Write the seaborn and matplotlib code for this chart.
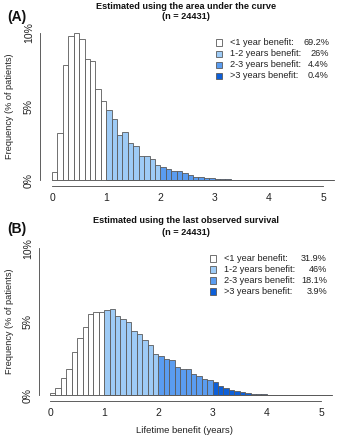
import numpy as np
import pandas as pd
import matplotlib
matplotlib.use('Agg')
import matplotlib.pyplot as plt
import seaborn as sns

# bins of 0.1 year from 0 to 5.2
edges = np.round(np.arange(0, 5.21, 0.1), 2)
centers = edges[:-1] + 0.05

# frequency (% of patients) per bin
freq_auc = [0.52, 3.2, 7.8, 9.8, 10.0, 9.6, 8.2, 8.1, 6.2, 5.4,
            4.75, 4.15, 3.05, 3.3, 2.55, 2.35, 1.65, 1.65, 1.4, 1.0,
            0.88, 0.78, 0.62, 0.6, 0.45, 0.35, 0.24, 0.2, 0.14, 0.11,
            0.08, 0.06, 0.05, 0.04, 0.03, 0.025, 0.02, 0.015, 0.012, 0.01,
            0.008, 0.007, 0.006, 0.005, 0.004, 0.004, 0.003, 0.003, 0.002, 0.002,
            0.002, 0.001]
freq_last = [0.16, 0.5, 1.14, 1.8, 2.95, 3.86, 4.65, 5.5, 5.63, 5.63,
             5.83, 5.85, 5.42, 5.15, 5.0, 4.35, 4.13, 3.72, 3.38, 2.77,
             2.65, 2.45, 2.36, 1.93, 1.77, 1.77, 1.47, 1.29, 1.09, 1.0,
             0.9, 0.62, 0.5, 0.34, 0.3, 0.18, 0.15, 0.08, 0.06, 0.05,
             0.04, 0.03, 0.02, 0.015, 0.01, 0.008, 0.006, 0.005, 0.004, 0.003,
             0.002, 0.002]

groups = ['<1 year benefit:', '1-2 years benefit:', '2-3 years benefit:', '>3 years benefit:']
colors = ['#FFFFFF', '#9ECBF6', '#5A9CF0', '#0D5FD8']
share_auc = ['69.2%', '26%', '4.4%', '0.4%']
share_last = ['31.9%', '46%', '18.1%', '3.9%']

titles = ['Estimated using the area under the curve', 'Estimated using the last observed survival']
n_total = 24431

sns.set_style('white')
plt.rcParams['font.family'] = ['Liberation Sans', 'DejaVu Sans']

fig = plt.figure(figsize=(3.38, 4.40), dpi=100)
W, H = 338, 440


def px_axes(l, t, r, b):
    return fig.add_axes([l / W, 1 - b / H, (r - l) / W, (b - t) / H])


def group_of(x):
    return groups[min(int(np.floor(x)), 3)]


panels = [
    dict(freq=freq_auc, share=share_auc, box=(40, 27, 338, 186), zero=52, label='(A)',
         title=titles[0], ty=(6.5, 16.5), ly=(7, 17), leg=(219, 230, 329, 42.7, 11.1)),
    dict(freq=freq_last, share=share_last, box=(39, 242.4, 338, 401), zero=50, label='(B)',
         title=titles[1], ty=(220, 232.5), ly=(7, 229), leg=(212.7, 224, 327, 258.3, 11.1)),
]

for i, p in enumerate(panels):
    l, t, r, b = p['box']
    ax = px_axes(l, t, r, b)
    df = pd.DataFrame({'benefit': centers, 'pct': p['freq'],
                       'group': [group_of(c) for c in centers]})
    sns.histplot(data=df, x='benefit', weights='pct', binwidth=0.1, binrange=(0, 5.2),
                 hue='group', hue_order=groups, palette=colors, multiple='layer',
                 alpha=1, edgecolor='#5a5a5a', linewidth=0.6, legend=False, ax=ax)
    ax.set_ylim(-0.4, 10.4)
    ppu = 54.2
    x0 = -(p['zero'] - l) / ppu
    ax.set_xlim(x0, x0 + (r - l) / ppu)
    ax.set_xticks([0, 1, 2, 3, 4, 5])
    ax.set_yticks([0, 5, 10])
    ax.set_yticklabels(['0%', '5%', '10%'], rotation=90, va='center')
    ax.tick_params(axis='both', labelsize=7.5, length=3, width=0.6,
                   color='#444444', labelcolor='#222222', pad=1.5)
    ax.tick_params(axis='x', pad=2)
    for s in ['top', 'right']:
        ax.spines[s].set_visible(False)
    ax.spines['left'].set_bounds(0, 10)
    ax.spines['bottom'].set_bounds(0, 5)
    for s in ['left', 'bottom']:
        ax.spines[s].set_color('#444444')
        ax.spines[s].set_linewidth(0.6)
    ax.set_ylabel('')
    ax.set_xlabel('')

    # y label
    fig.text(10 / W, 1 - (t + b) / 2 / H, 'Frequency (% of patients)', rotation=90,
             ha='center', va='center', fontsize=6.6, color='#222222')
    # titles and panel letters
    fig.text(186 / W, 1 - p['ty'][0] / H, p['title'], ha='center', va='center',
             fontsize=6.6, fontweight='bold', color='#111111')
    fig.text(186 / W, 1 - p['ty'][1] / H, f'(n = {n_total})', ha='center', va='center',
             fontsize=6.6, fontweight='bold', color='#111111')
    fig.text(p['ly'][0] / W, 1 - p['ly'][1] / H, p['label'], ha='left', va='center',
             fontsize=10, fontweight='bold', color='#111111')

    # legend with right-aligned shares
    sq, tx, vx, y0, dy = p['leg']
    for k, g in enumerate(groups):
        yy = 1 - (y0 + k * dy) / H
        fig.patches.append(plt.Rectangle(((sq - 3.2) / W, yy - 3.2 / H), 6.4 / W, 6.4 / H,
                                         transform=fig.transFigure, facecolor=colors[k],
                                         edgecolor='#5a5a5a', linewidth=0.6))
        fig.text(tx / W, yy, g, ha='left', va='center', fontsize=6.6, color='#222222')
        fig.text(vx / W, yy, p['share'][k], ha='right', va='center', fontsize=6.6,
                 color='#222222')

fig.text(185 / W, 1 - 430 / H, 'Lifetime benefit (years)', ha='center', va='center',
         fontsize=6.8, color='#222222')

fig.savefig('out.png', dpi=100)
